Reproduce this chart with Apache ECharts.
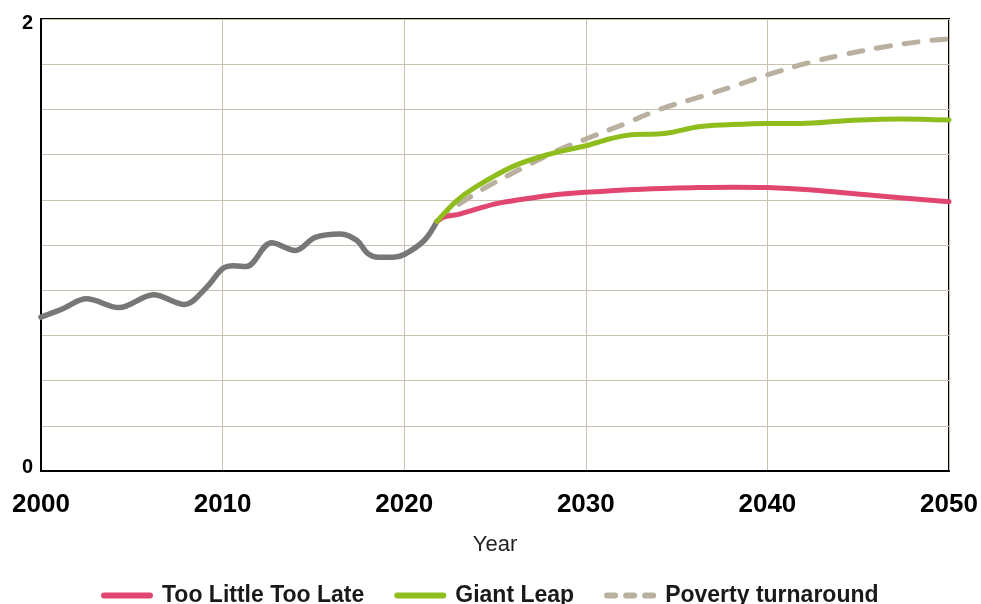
<!DOCTYPE html>
<html>
<head>
<meta charset="utf-8">
<script src="https://cdn.jsdelivr.net/npm/echarts@6/dist/echarts.min.js"></script>
<style>
html,body{margin:0;padding:0;background:#fff;}
#chart{width:981px;height:604px;}
</style>
</head>
<body>
<div id="chart"></div>
<script>
// ---- Data ----
const xTicks = [2000, 2010, 2020, 2030, 2040, 2050];
const yTickLabels = { 0: '0', 2: '2' };
const seriesNames = ['Too Little Too Late', 'Giant Leap', 'Poverty turnaround'];

const historyYears = [2000, 2001.2, 2002.5, 2004.3, 2006.2, 2007.9, 2009.1, 2010.0, 2010.6, 2011.3, 2012.7, 2014.0, 2015.1, 2016.5, 2017.4, 2018.0, 2018.6, 2019.4, 2020.0, 2021.1, 2021.8];
const historyValues = [0.681, 0.718, 0.762, 0.723, 0.780, 0.737, 0.811, 0.895, 0.908, 0.905, 1.010, 0.976, 1.034, 1.049, 1.020, 0.962, 0.946, 0.946, 0.958, 1.020, 1.104];

const tooLittleYears = [2021.8, 2022.2, 2023.1, 2024.9, 2026.0, 2028.0, 2030.0, 2033.1, 2036.2, 2038.2, 2040.0, 2042.3, 2045.3, 2050.0];
const tooLittleValues = [1.104, 1.124, 1.138, 1.180, 1.196, 1.219, 1.233, 1.247, 1.254, 1.256, 1.254, 1.244, 1.223, 1.191];

const giantLeapYears = [2021.8, 2022.9, 2023.9, 2026.0, 2028.0, 2030.0, 2031.3, 2032.5, 2033.9, 2034.7, 2036.2, 2037.8, 2040.0, 2041.9, 2044.3, 2047.4, 2050.0];
const giantLeapValues = [1.104, 1.196, 1.255, 1.348, 1.402, 1.439, 1.469, 1.488, 1.491, 1.498, 1.523, 1.532, 1.538, 1.538, 1.550, 1.558, 1.553];

const povertyYears = [2021.8, 2023.0, 2024.5, 2026.6, 2028.4, 2030.0, 2032.1, 2034.1, 2036.2, 2038.2, 2040.0, 2042.3, 2044.3, 2046.4, 2048.4, 2050.0];
const povertyValues = [1.104, 1.179, 1.255, 1.344, 1.417, 1.469, 1.535, 1.601, 1.653, 1.704, 1.753, 1.807, 1.844, 1.876, 1.900, 1.912];

const zip = (xs, ys) => xs.map((x, i) => [x, ys[i]]);

const FONT = "'Liberation Sans', Arial, sans-serif";
const gridColor = '#c9c1b2';
const C_HIST = '#777777', C_RED = '#e0466f', C_GREEN = '#8fbd1d', C_DASH = '#b9b09f';

// legend icons (52 x 6 view box)
const ICON_SOLID = 'path://M3,0 H49 A3,3 0 0 1 49,6 H3 A3,3 0 0 1 3,0 Z';
const ICON_DASH = 'path://M3,0 H11 A3,3 0 0 1 11,6 H3 A3,3 0 0 1 3,0 Z M22,0 H30 A3,3 0 0 1 30,6 H22 A3,3 0 0 1 22,0 Z M41,0 H49 A3,3 0 0 1 49,6 H41 A3,3 0 0 1 41,0 Z';

const chart = echarts.init(document.getElementById('chart'), null, { renderer: 'canvas' });
chart.setOption({
  animation: false,
  backgroundColor: '#ffffff',
  grid: {
    left: 41, right: 32, top: 19, bottom: 133,
    show: true, borderColor: '#000', borderWidth: 2, backgroundColor: 'transparent'
  },
  legend: {
    data: [
      { name: seriesNames[0], icon: ICON_SOLID },
      { name: seriesNames[1], icon: ICON_SOLID },
      { name: seriesNames[2], icon: ICON_DASH }
    ],
    left: 96,
    top: 579,
    itemWidth: 52,
    itemHeight: 6,
    itemGap: 30,
    textStyle: { fontFamily: FONT, fontWeight: 'bold', fontSize: 23, color: '#1a1a1a', padding: [0, 0, 0, 4] }
  },
  xAxis: {
    type: 'value',
    min: xTicks[0], max: xTicks[xTicks.length - 1], interval: 10,
    name: 'Year',
    nameLocation: 'middle',
    nameGap: 63,
    nameTextStyle: { fontFamily: FONT, fontSize: 22, color: '#222' },
    axisLine: { show: true, lineStyle: { color: '#000', width: 2 } },
    axisTick: { show: false },
    axisLabel: {
      margin: 21,
      fontFamily: FONT, fontWeight: 'bold', fontSize: 26, color: '#000',
      formatter: v => xTicks.includes(v) ? String(v) : ''
    },
    splitLine: { show: true, lineStyle: { color: gridColor, width: 1 } }
  },
  yAxis: {
    type: 'value',
    min: 0, max: 2, interval: 0.2,
    axisLine: { show: true, lineStyle: { color: '#000', width: 2 } },
    axisTick: { show: false },
    axisLabel: {
      margin: 8,
      fontFamily: FONT, fontWeight: 'bold', fontSize: 20, color: '#000',
      formatter: v => {
        const k = Math.round(v * 10) / 10;
        if (Math.abs(v - k) > 1e-6 || yTickLabels[k] === undefined) return '';
        return k === 0 ? '{lo|' + yTickLabels[k] + '}' : '{hi|' + yTickLabels[k] + '}';
      },
      rich: {
        lo: { fontFamily: FONT, fontWeight: 'bold', fontSize: 20, color: '#000', padding: [0, 0, 7, 0] },
        hi: { fontFamily: FONT, fontWeight: 'bold', fontSize: 20, color: '#000', padding: [9, 0, 0, 0] }
      }
    },
    splitLine: { show: true, lineStyle: { color: gridColor, width: 1 } }
  },
  series: [
    {
      name: 'History', type: 'line', smooth: 0.35, symbol: 'none',
      data: zip(historyYears, historyValues),
      lineStyle: { color: C_HIST, width: 5.5, cap: 'round' },
      itemStyle: { color: C_HIST }, z: 2
    },
    {
      name: seriesNames[2], type: 'line', smooth: 0.35, symbol: 'none',
      data: zip(povertyYears, povertyValues),
      lineStyle: { color: C_DASH, width: 5, type: [14, 14], cap: 'round' },
      itemStyle: { color: C_DASH }, z: 3
    },
    {
      name: seriesNames[0], type: 'line', smooth: 0.35, symbol: 'none',
      data: zip(tooLittleYears, tooLittleValues),
      lineStyle: { color: C_RED, width: 5, cap: 'round' },
      itemStyle: { color: C_RED }, z: 4
    },
    {
      name: seriesNames[1], type: 'line', smooth: 0.35, symbol: 'none',
      data: zip(giantLeapYears, giantLeapValues),
      lineStyle: { color: C_GREEN, width: 5, cap: 'round' },
      itemStyle: { color: C_GREEN }, z: 5
    }
  ]
});
</script>
</body>
</html>
